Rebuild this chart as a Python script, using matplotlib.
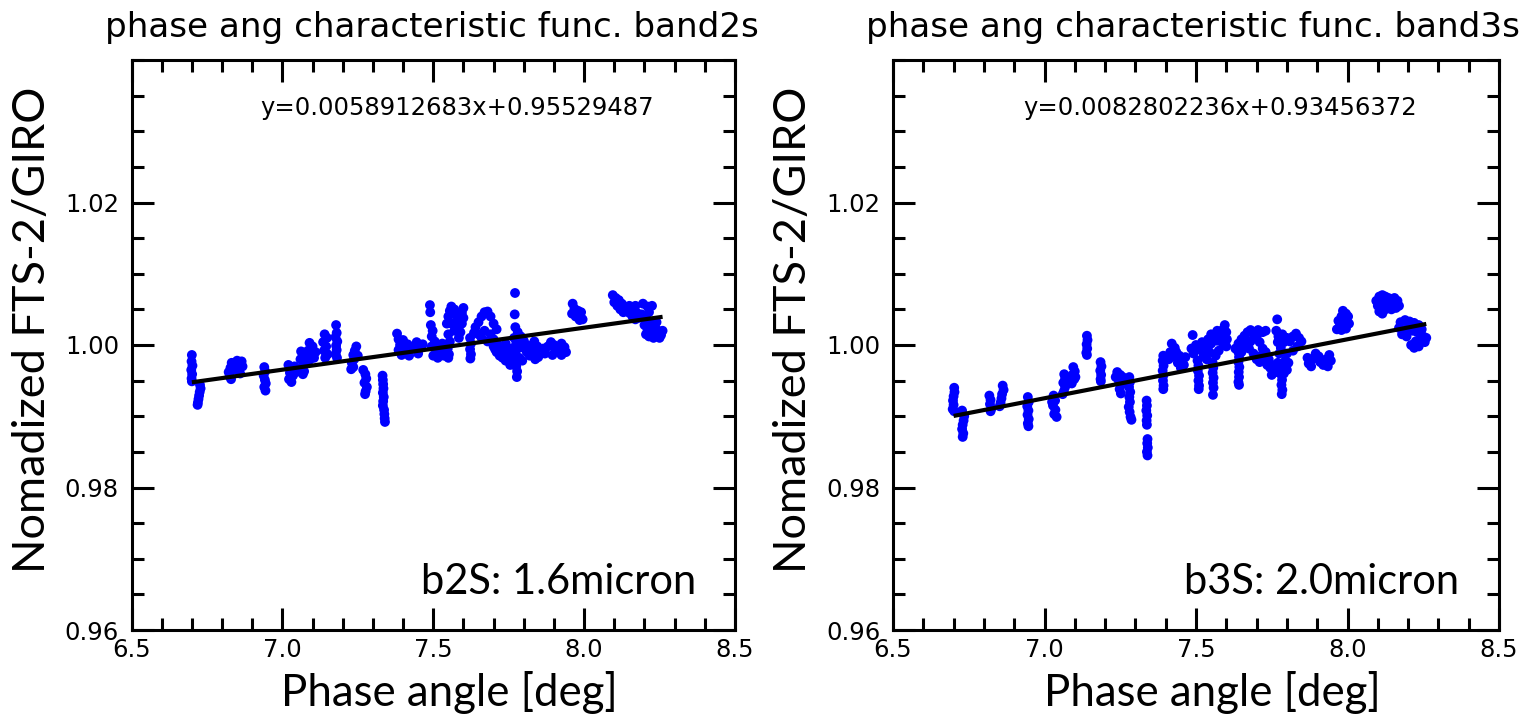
import matplotlib
matplotlib.use("Agg")
import matplotlib.pyplot as plt
from matplotlib.ticker import MultipleLocator, FixedLocator

# ---------------- data ----------------
phase_b2 = [
    6.700, 6.699, 6.702, 6.698, 6.701, 6.699, 6.700,
    6.727, 6.729, 6.726, 6.724, 6.722, 6.720, 6.719,
    6.822, 6.825, 6.828, 6.832, 6.838, 6.845, 6.850, 6.855, 6.860, 6.865, 6.868, 6.830,
    6.940, 6.943, 6.938, 6.942, 6.945, 6.940, 6.944,
    7.020, 7.030, 7.040, 7.025, 7.035, 7.022, 7.030, 7.045,
    7.062, 7.068, 7.060, 7.070, 7.065, 7.072, 7.068,
    7.090, 7.100, 7.085, 7.095, 7.105, 7.090, 7.110,
    7.140, 7.148, 7.135, 7.145, 7.138, 7.150, 7.142,
    7.178, 7.180, 7.176, 7.182, 7.178, 7.180, 7.177, 7.181,
    7.245, 7.240, 7.235, 7.238, 7.230, 7.235, 7.228, 7.250,
    7.268, 7.275, 7.278, 7.272, 7.280, 7.276, 7.274,
    7.332, 7.333, 7.334, 7.335, 7.333, 7.336, 7.334, 7.333, 7.337, 7.338, 7.339, 7.340,
    7.380, 7.385, 7.390, 7.385, 7.395, 7.405, 7.415, 7.425, 7.435, 7.445, 7.455, 7.450, 7.420, 7.465, 7.400,
    7.489, 7.490,
    7.492, 7.498, 7.495, 7.505, 7.495, 7.510, 7.500, 7.515, 7.525, 7.520, 7.530, 7.540, 7.535,
    7.545, 7.550, 7.555, 7.560, 7.570, 7.575, 7.580, 7.585, 7.590, 7.595, 7.600, 7.595, 7.585,
    7.570, 7.560, 7.550, 7.555, 7.548, 7.552, 7.550, 7.600, 7.590,
    7.622, 7.625, 7.622, 7.625, 7.623,
    7.640, 7.650, 7.660, 7.670, 7.680, 7.690, 7.700, 7.710, 7.690, 7.670, 7.660, 7.680, 7.700,
    7.715, 7.705, 7.650, 7.635,
    7.700, 7.710, 7.720, 7.730, 7.740, 7.750, 7.760, 7.770, 7.780, 7.790, 7.800, 7.810, 7.820,
    7.830, 7.725, 7.745, 7.765, 7.775, 7.778, 7.777, 7.760, 7.785, 7.795, 7.740, 7.755,
    7.771, 7.770,
    7.772, 7.780, 7.790, 7.800, 7.810, 7.768, 7.775,
    7.835, 7.845, 7.840, 7.848, 7.838,
    7.865, 7.870, 7.880, 7.890, 7.900, 7.905, 7.915, 7.925, 7.935, 7.940, 7.925, 7.895,
    7.962, 7.968, 7.960, 7.972, 7.980, 7.988, 7.985, 7.990, 7.995,
    8.095, 8.105, 8.115, 8.125, 8.135, 8.100, 8.110, 8.120, 8.130, 8.140, 8.150, 8.160, 8.170,
    8.150, 8.160, 8.175, 8.190, 8.200, 8.195, 8.210, 8.215, 8.225, 8.180, 8.170,
    8.200, 8.210, 8.205, 8.215, 8.225, 8.235, 8.245, 8.255, 8.250, 8.230, 8.260, 8.220, 8.240, 8.210,
]
ratio_b2 = [
    0.9986, 0.9977, 0.9971, 0.9965, 0.9959, 0.9953, 0.9949,
    0.9944, 0.9939, 0.9934, 0.9929, 0.9924, 0.9919, 0.9916,
    0.9962, 0.9956, 0.9968, 0.9975, 0.9965, 0.9972, 0.9978, 0.9968, 0.9960, 0.9977, 0.9970, 0.9952,
    0.9969, 0.9963, 0.9957, 0.9951, 0.9946, 0.9941, 0.9936,
    0.9972, 0.9967, 0.9970, 0.9961, 0.9957, 0.9952, 0.9948, 0.9962,
    0.9991, 0.9986, 0.9980, 0.9975, 0.9969, 0.9963, 0.9959,
    1.0003, 0.9998, 0.9992, 0.9987, 0.9982, 0.9979, 0.9990,
    1.0015, 1.0010, 1.0004, 0.9998, 0.9992, 0.9987, 0.9982,
    1.0028, 1.0017, 1.0011, 1.0005, 0.9999, 0.9993, 0.9987, 0.9982,
    0.9998, 0.9992, 0.9986, 0.9980, 0.9975, 0.9969, 0.9966, 0.9985,
    0.9965, 0.9959, 0.9953, 0.9947, 0.9941, 0.9935, 0.9931,
    0.9957, 0.9951, 0.9945, 0.9939, 0.9933, 0.9927, 0.9921, 0.9915, 0.9909, 0.9903, 0.9897, 0.9892,
    1.0016, 1.0008, 1.0000, 0.9993, 0.9986, 0.9995, 1.0001, 0.9994, 0.9998, 1.0004, 0.9996, 0.9988, 0.9985, 1.0001, 1.0007,
    1.0056, 1.0046,
    1.0028, 1.0020, 1.0012, 1.0005, 0.9998, 0.9992, 0.9985, 0.9982, 0.9988, 0.9996, 1.0002, 0.9995, 0.9985,
    1.0030, 1.0040, 1.0048, 1.0054, 1.0050, 1.0042, 1.0034, 1.0026, 1.0018, 1.0045, 1.0052, 1.0030, 1.0010,
    1.0020, 1.0030, 1.0015, 1.0005, 0.9995, 0.9987, 0.9982, 1.0038, 1.0044,
    1.0010, 1.0002, 0.9994, 0.9987, 0.9981,
    1.0025, 1.0032, 1.0040, 1.0046, 1.0047, 1.0040, 1.0030, 1.0022, 1.0015, 1.0020, 1.0010, 1.0005, 1.0008,
    1.0000, 0.9994, 1.0015, 1.0017,
    0.9998, 0.9990, 0.9985, 0.9982, 0.9978, 0.9980, 0.9985, 0.9990, 0.9995, 1.0000, 0.9996, 0.9990, 0.9985,
    0.9994, 0.9995, 0.9990, 0.9975, 0.9970, 0.9963, 0.9955, 0.9995, 0.9982, 0.9978, 1.0002, 0.9972,
    1.0073, 1.0043,
    1.0025, 1.0018, 1.0012, 1.0006, 1.0000, 1.0010, 1.0002,
    1.0005, 0.9998, 0.9990, 0.9983, 0.9980,
    0.9995, 0.9988, 0.9998, 1.0004, 1.0000, 0.9992, 0.9996, 1.0002, 0.9997, 0.9990, 0.9986, 0.9986,
    1.0058, 1.0051, 1.0044, 1.0040, 1.0048, 1.0040, 1.0035, 1.0046, 1.0036,
    1.0070, 1.0066, 1.0063, 1.0058, 1.0054, 1.0060, 1.0055, 1.0050, 1.0046, 1.0050, 1.0045, 1.0040, 1.0036,
    1.0055, 1.0050, 1.0045, 1.0043, 1.0040, 1.0058, 1.0054, 1.0046, 1.0055, 1.0038, 1.0055,
    1.0028, 1.0022, 1.0015, 1.0012, 1.0018, 1.0025, 1.0020, 1.0014, 1.0010, 1.0010, 1.0020, 1.0030, 1.0032, 1.0035,
]

phase_b3 = [
    6.702, 6.703, 6.700, 6.698, 6.700, 6.697, 6.702,
    6.728, 6.735, 6.733, 6.730, 6.728, 6.732, 6.730,
    6.818, 6.822, 6.820, 6.825, 6.822,
    6.862, 6.865, 6.860, 6.858, 6.855, 6.852,
    6.945, 6.948, 6.943, 6.947, 6.944, 6.948, 6.945, 6.947,
    7.030, 7.035, 7.028, 7.036, 7.032, 7.040, 7.025,
    7.065, 7.068, 7.062, 7.068, 7.064, 7.060,
    7.095, 7.100, 7.092, 7.098, 7.090, 7.102,
    7.140, 7.142, 7.139, 7.141, 7.138, 7.140,
    7.185, 7.188, 7.184, 7.187, 7.185, 7.186,
    7.240, 7.250, 7.258, 7.245, 7.255, 7.248, 7.252, 7.235,
    7.280, 7.282, 7.279, 7.283, 7.280, 7.282, 7.278, 7.281, 7.284, 7.287,
    7.337, 7.338, 7.336, 7.339, 7.337, 7.338, 7.340, 7.339, 7.341, 7.338, 7.340,
    7.392, 7.390, 7.393, 7.390, 7.392, 7.391, 7.393, 7.392,
    7.420, 7.415, 7.425, 7.435, 7.445, 7.455, 7.460, 7.450, 7.440, 7.410, 7.465, 7.430,
    7.489,
    7.505, 7.508, 7.506, 7.510, 7.508, 7.510, 7.509,
    7.555, 7.557, 7.555, 7.558, 7.556, 7.558, 7.556,
    7.485, 7.492, 7.500, 7.510, 7.520, 7.530, 7.540, 7.550, 7.560, 7.570, 7.580, 7.590, 7.595,
    7.600, 7.602, 7.590, 7.575, 7.565, 7.545, 7.525, 7.585, 7.600, 7.550, 7.570, 7.535,
    7.640, 7.642, 7.640, 7.643, 7.641, 7.642, 7.640, 7.642,
    7.630, 7.640, 7.650, 7.660, 7.670, 7.680, 7.690, 7.700, 7.710, 7.720, 7.730, 7.705,
    7.660, 7.675, 7.690, 7.700, 7.710, 7.680, 7.720, 7.650,
    7.715, 7.725, 7.735, 7.745, 7.755, 7.765, 7.775, 7.785, 7.795, 7.805, 7.800, 7.790,
    7.760, 7.740, 7.730, 7.750, 7.770,
    7.782, 7.784, 7.782, 7.785, 7.783,
    7.768,
    7.765, 7.772, 7.770, 7.780, 7.790, 7.800, 7.810, 7.820, 7.830, 7.840, 7.848, 7.835,
    7.820, 7.800, 7.775, 7.785,
    7.868, 7.872, 7.880, 7.885, 7.895, 7.905, 7.910, 7.920, 7.930, 7.940, 7.945, 7.935,
    7.985, 7.995, 8.002, 7.980, 7.970, 7.975, 7.985, 7.995, 8.005, 7.965, 7.980, 7.995,
    8.095, 8.105, 8.115, 8.125, 8.135, 8.145, 8.155, 8.165, 8.170, 8.160, 8.150, 8.140,
    8.130, 8.120, 8.110, 8.100, 8.105, 8.115, 8.125, 8.145,
    8.175, 8.190, 8.205, 8.220, 8.235, 8.170, 8.185, 8.200, 8.215, 8.230, 8.245, 8.250,
    8.240, 8.255, 8.225, 8.210, 8.220, 8.235, 8.260, 8.195, 8.180,
]
ratio_b3 = [
    0.9940, 0.9934, 0.9928, 0.9922, 0.9916, 0.9910, 0.9907,
    0.9908, 0.9900, 0.9894, 0.9888, 0.9882, 0.9876, 0.9871,
    0.9929, 0.9923, 0.9917, 0.9911, 0.9907,
    0.9943, 0.9937, 0.9931, 0.9925, 0.9919, 0.9914,
    0.9927, 0.9920, 0.9914, 0.9908, 0.9902, 0.9896, 0.9890, 0.9886,
    0.9929, 0.9922, 0.9915, 0.9909, 0.9903, 0.9899, 0.9920,
    0.9959, 0.9953, 0.9947, 0.9941, 0.9935, 0.9931,
    0.9969, 0.9963, 0.9958, 0.9952, 0.9946, 0.9955,
    1.0013, 1.0007, 1.0001, 0.9995, 0.9989, 0.9986,
    0.9976, 0.9970, 0.9964, 0.9958, 0.9952, 0.9949,
    0.9962, 0.9958, 0.9955, 0.9950, 0.9945, 0.9938, 0.9932, 0.9955,
    0.9955, 0.9948, 0.9941, 0.9934, 0.9927, 0.9920, 0.9913, 0.9906, 0.9899, 0.9895,
    0.9922, 0.9915, 0.9908, 0.9901, 0.9894, 0.9888, 0.9868, 0.9862, 0.9856, 0.9850, 0.9845,
    0.9985, 0.9978, 0.9971, 0.9964, 0.9957, 0.9950, 0.9943, 0.9938,
    1.0002, 0.9990, 0.9984, 0.9990, 0.9985, 0.9978, 0.9972, 0.9968, 0.9975, 0.9980, 0.9983, 0.9996,
    1.0014,
    0.9978, 0.9971, 0.9964, 0.9957, 0.9950, 0.9943, 0.9938,
    0.9975, 0.9968, 0.9961, 0.9954, 0.9947, 0.9940, 0.9930,
    0.9995, 0.9988, 1.0000, 0.9994, 1.0004, 0.9998, 1.0008, 1.0002, 1.0012, 1.0006, 1.0016, 1.0022, 1.0028,
    1.0018, 1.0008, 1.0000, 0.9992, 0.9985, 0.9990, 0.9985, 1.0010, 0.9998, 1.0015, 1.0020, 0.9980,
    0.9990, 0.9983, 0.9976, 0.9969, 0.9962, 0.9955, 0.9948, 0.9944,
    0.9995, 1.0002, 1.0008, 1.0013, 1.0018, 1.0021, 1.0015, 1.0010, 1.0004, 1.0018, 1.0020, 1.0021,
    1.0000, 0.9995, 0.9988, 0.9980, 0.9976, 1.0005, 0.9995, 0.9990,
    0.9985, 0.9978, 0.9972, 0.9968, 0.9965, 0.9962, 0.9966, 0.9972, 0.9978, 0.9975, 0.9965, 0.9960,
    0.9972, 0.9980, 0.9990, 0.9958, 0.9975,
    0.9958, 0.9951, 0.9944, 0.9937, 0.9931,
    1.0036,
    1.0020, 1.0012, 1.0004, 0.9996, 1.0004, 1.0010, 1.0005, 1.0012, 1.0016, 1.0010, 1.0005, 0.9998,
    0.9992, 0.9988, 0.9988, 1.0015,
    0.9982, 0.9974, 0.9970, 0.9980, 0.9988, 0.9984, 0.9976, 0.9972, 0.9980, 0.9986, 0.9978, 0.9970,
    1.0048, 1.0044, 1.0040, 1.0040, 1.0034, 1.0027, 1.0030, 1.0034, 1.0030, 1.0022, 1.0021, 1.0023,
    1.0062, 1.0068, 1.0070, 1.0068, 1.0066, 1.0064, 1.0066, 1.0062, 1.0055, 1.0052, 1.0056, 1.0058,
    1.0060, 1.0058, 1.0055, 1.0055, 1.0047, 1.0044, 1.0050, 1.0050,
    1.0032, 1.0035, 1.0033, 1.0031, 1.0028, 1.0024, 1.0020, 1.0024, 1.0020, 1.0018, 1.0022, 1.0012,
    1.0008, 1.0004, 1.0005, 1.0000, 0.9996, 0.9998, 1.0010, 1.0012, 1.0015,
]

slope_b2, icpt_b2 = 0.0058912683, 0.95529487
slope_b3, icpt_b3 = 0.0082802236, 0.93456372
fit_range = [6.70, 8.26]

titles = ["phase ang characteristic func. band2s", "phase ang characteristic func. band3s"]
eq_texts = ["y=0.0058912683x+0.95529487", "y=0.0082802236x+0.93456372"]
band_texts = ["b2S: 1.6micron", "b3S: 2.0micron"]
ylabel_text = "Nomadized FTS-2/GIRO"
xlabel_text = "Phase angle [deg]"
xticks = [6.5, 7.0, 7.5, 8.0, 8.5]
xtick_labels = ["6.5", "7.0", "7.5", "8.0", "8.5"]
yticks = [0.96, 0.98, 1.00, 1.02]
ytick_labels = ["0.96", "0.98", "1.00", "1.02"]

# ---------------- figure ----------------
W, H = 1527, 719
fig = plt.figure(figsize=(W / 100, H / 100), dpi=100)

label_font = ["Lato", "DejaVu Sans"]

panels = [
    (131.5, 735.0, phase_b2, ratio_b2, slope_b2, icpt_b2, 432.0),
    (893.0, 1499.0, phase_b3, ratio_b3, slope_b3, icpt_b3, 1193.0),
]

for i, (l, r, xs, ys, m, b, tcx) in enumerate(panels):
    ax = fig.add_axes([l / W, (H - 630) / H, (r - l) / W, (630 - 60) / H])
    ax.scatter(xs, ys, s=50, color="#0000ff", edgecolors="none", zorder=2)
    ax.plot(fit_range, [m * fit_range[0] + b, m * fit_range[1] + b],
            color="black", lw=3.0, zorder=3, solid_capstyle="butt")
    ax.set_xlim(6.5, 8.5)
    ax.set_ylim(0.96, 1.04)
    ax.xaxis.set_major_locator(FixedLocator(xticks))
    ax.set_xticklabels(xtick_labels)
    ax.xaxis.set_minor_locator(MultipleLocator(0.1))
    ax.yaxis.set_major_locator(FixedLocator(yticks))
    ax.set_yticklabels(ytick_labels)
    ax.yaxis.set_minor_locator(MultipleLocator(0.005))
    ax.tick_params(which="both", direction="in", top=True, right=True, width=2.2,
                   colors="black", labelsize=17.5)
    ax.tick_params(which="major", length=16)
    ax.tick_params(which="minor", length=8.5)
    ax.tick_params(axis="x", which="major", pad=6)
    ax.tick_params(axis="y", which="major", pad=9)
    for sp in ax.spines.values():
        sp.set_linewidth(2.2)
    fig.text(tcx / W, 1 - 27 / H, titles[i], ha="center", va="center",
             fontsize=24.6)
    ax.text(0.54, 0.915, eq_texts[i], transform=ax.transAxes, ha="center",
            va="center", fontsize=17.5)
    ax.text(0.935, 0.085, band_texts[i], transform=ax.transAxes, ha="right",
            va="center", fontsize=30, family=label_font)
    # axis labels placed as in the reference
    fig.text((l - 99) / W, 1 - 330 / H, ylabel_text, rotation=90, ha="center",
             va="center", fontsize=32.5, family=label_font)
    fig.text((l + r) / 2 / W + 16 / W, 1 - 693 / H, xlabel_text, ha="center",
             va="center", fontsize=31.5, family=label_font)

fig.savefig("out.png", dpi=100)
